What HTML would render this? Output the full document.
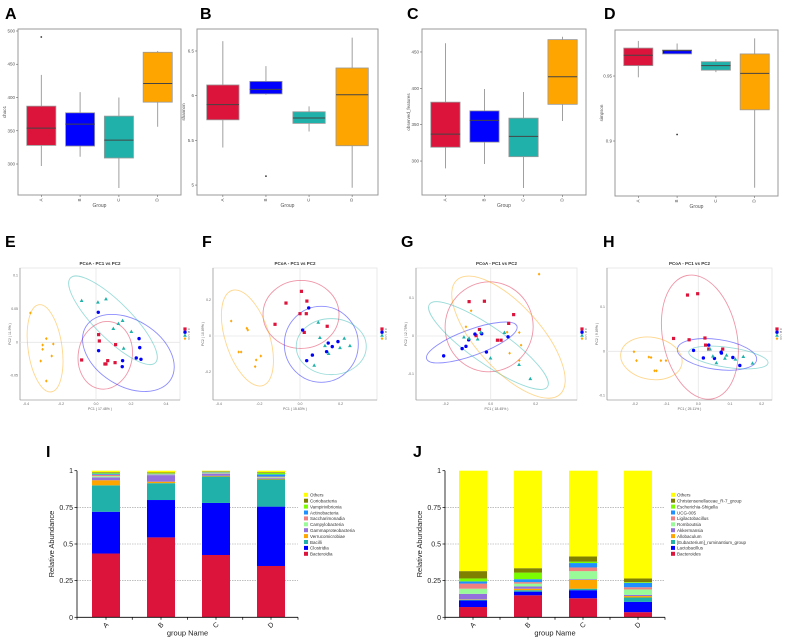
<!DOCTYPE html>
<html><head><meta charset="utf-8"><style>
html,body{margin:0;padding:0;background:#fff;}
svg{display:block;font-family:"Liberation Sans",sans-serif;}
</style></head><body>
<svg id="fig" width="787" height="641" viewBox="0 0 787 641" xmlns="http://www.w3.org/2000/svg"></svg>
<script>
// ---------- DATA ----------
const groups = ["A","B","C","D"];
const groupColors = ["#DC143C","#0000FF","#20B2AA","#FFA500"];
// boxplot stats [low, q1, median, q3, high]
const chao1Stats = [[297,328,354,387,434],[311,327,360,377,408],[264,309,336,372,400],[356,393,421,468,470]];
const chao1Outliers = [[491],[],[],[]];
const shannonStats = [[5.42,5.73,5.90,6.12,6.61],[6.01,6.02,6.07,6.16,6.33],[5.60,5.69,5.75,5.82,5.88],[4.97,5.44,6.01,6.31,6.65]];
const shannonOutliers = [[],[5.10],[],[]];
const observedStats = [[290,319,337,381,462],[296,326,356,369,399],[263,306,334,359,395],[355,378,416,467,471]];
const observedOutliers = [[],[],[],[]];
const simpsonStats = [[0.949,0.958,0.966,0.9715,0.977],[0.967,0.967,0.9695,0.970,0.975],[0.953,0.9545,0.958,0.961,0.963],[0.864,0.924,0.952,0.967,0.979]];
const simpsonOutliers = [[],[0.905],[],[]];
const chao1Ticks = [300,350,400,450,500];
const shannonTicks = [5.0,5.5,6.0,6.5];
const observedTicks = [300,350,400,450];
const simpsonTicks = [0.90,0.95];

// PCoA points per group: x values and y values
const pcoaEX = [[0.015,0.019,-0.082,0.067,0.057,0.051,0.109,0.112],[0.013,0.015,0.152,0.150,0.230,0.257,0.246,0.250],[-0.082,0.011,0.057,0.128,0.152,0.099,0.202,0.158],[-0.375,-0.284,-0.305,-0.244,-0.305,-0.253,-0.316,-0.284]];
const pcoaEY = [[0.0115,0.002,-0.0265,-0.0275,-0.0325,-0.0325,-0.0305,-0.0035],[0.045,-0.0125,-0.0275,-0.0365,-0.0235,-0.0255,0.0055,-0.008],[0.0625,0.06,0.065,0.028,0.0325,0.0205,0.016,-0.009],[0.044,0.0055,-0.004,-0.0025,-0.0105,-0.0205,-0.028,-0.058]];
const pcoaFX = [[0.007,0.034,-0.069,0,0.031,-0.123,0.021,0.134],[0.043,0.013,0.139,0.187,0.159,0.131,0.061,0.033],[0.090,0.098,0.123,0.141,0.218,0.246,0.197,0.070],[-0.339,-0.262,-0.257,-0.302,-0.290,-0.193,-0.216,-0.221]];
const pcoaFY = [[0.248,0.194,0.183,0.124,0.124,0.065,0.020,0.054],[0.156,0.033,-0.039,-0.031,-0.059,-0.087,-0.106,-0.137],[0.076,-0.009,-0.054,-0.098,-0.013,-0.054,-0.065,-0.163],[0.083,0.043,0.033,-0.089,-0.089,-0.111,-0.133,-0.170]];
const pcoaGX = [[-0.096,-0.028,0.102,0.080,-0.050,-0.065,0.030,0.046],[-0.209,-0.127,-0.110,-0.098,-0.070,-0.040,-0.019,0.077],[-0.119,-0.096,-0.058,-0.044,0.061,-0.001,0.126,0.176],[-0.087,-0.110,0.073,0.127,0.135,0.084,0.127,0.215]];
const pcoaGY = [[0.090,0.091,0.056,0.033,0.017,0.001,-0.011,-0.011],[-0.052,-0.033,-0.027,-0.010,0.005,0.006,-0.042,-0.002],[-0.003,-0.006,-0.008,0.010,0.009,-0.058,-0.075,-0.112],[0.066,0.024,0.010,0.009,-0.024,-0.045,-0.064,0.162]];
const pcoaHX = [[-0.034,-0.002,-0.078,-0.029,0.021,0.023,0.033,0.077],[-0.015,0.016,0.033,0.051,0.072,0.109,0.131,0.073],[0.037,0.046,0.057,0.089,0.117,0.142,0.171,0.084],[-0.203,-0.195,-0.156,-0.149,-0.118,-0.102,-0.138,-0.132]];
const pcoaHY = [[0.127,0.130,0.029,0.026,0.030,0.014,0.005,0.005],[0.002,-0.015,0.014,-0.016,-0.002,-0.014,-0.032,-0.004],[0.005,-0.011,-0.026,-0.009,-0.018,-0.012,-0.027,-0.016],[-0.001,-0.021,-0.013,-0.014,-0.021,-0.021,-0.044,-0.044]];
// ellipse centres (data units)
const ellEC = [[0.053,-0.0195],[0.185,-0.016],[0.097,0.033],[-0.291,-0.009]];
const ellFC = [[0.005,0.120],[0.105,-0.046],[0.154,-0.059],[-0.259,-0.011]];
const ellGC = [[-0.007,0.024],[-0.084,-0.017],[-0.010,-0.025],[0.079,-0.003]];
const ellHC = [[0.005,0.032],[0.059,-0.007],[0.095,-0.014],[-0.148,-0.016]];
const pcoaETicksX=[-0.4,-0.2,0.0,0.2,0.4], pcoaETicksY=[0.10,0.05,0.00,-0.05];
const pcoaFTicksX=[-0.4,-0.2,0.0,0.2], pcoaFTicksY=[0.2,0.0,-0.2];
const pcoaGTicksX=[-0.2,0.0,0.2], pcoaGTicksY=[0.1,0.0,-0.1];
const pcoaHTicksX=[-0.2,-0.1,0.0,0.1,0.2], pcoaHTicksY=[0.1,0.0,-0.1];

// stacked bars (bottom to top)
const classNames = ["Bacteroidia","Clostridia","Bacilli","Verrucomicrobiae","Gammaproteobacteria","Campylobacteria","Saccharimonadia","Actinobacteria","Vampirivibrionia","Coriobacteria","Others"];
const classA = [0.435,0.285,0.18,0.035,0.02,0.008,0.01,0.007,0.005,0.005,0.01];
const classB = [0.545,0.255,0.115,0.01,0.045,0.003,0.003,0.003,0.004,0.005,0.012];
const classC = [0.425,0.355,0.18,0.005,0.015,0.003,0.003,0.003,0.003,0.004,0.004];
const classD = [0.35,0.405,0.185,0.005,0.005,0.005,0.005,0.015,0.01,0.005,0.01];
const genusNames = ["Bacteroides","Lactobacillus","[Eubacterium]_ruminantium_group","Allobaculum","Akkermansia","Romboutsia","Ligilactobacillus","UCG-005","Escherichia-Shigella","Christensenellaceae_R-7_group","Others"];
const genusA = [0.07,0.045,0.005,0.003,0.037,0.035,0.035,0.015,0.02,0.05,0.685];
const genusB = [0.15,0.025,0.01,0.01,0.015,0.02,0.01,0.02,0.045,0.03,0.665];
const genusC = [0.13,0.055,0.01,0.06,0.005,0.055,0.025,0.03,0.01,0.035,0.585];
const genusD = [0.035,0.07,0.03,0.01,0.008,0.037,0.015,0.03,0.005,0.025,0.735];
const stackColors = ["#DC143C","#0000FF","#20B2AA","#FFA500","#9370DB","#98FB98","#F08080","#1E90FF","#7CFC00","#808000","#FFFF00"];
const abundTicks = [0,0.25,0.5,0.75,1];
const abundTickLabels = ["0","0.25","0.5","0.75","1"];

// ---------- DRAW ----------
const svg = document.getElementById('fig');
const NS = "http://www.w3.org/2000/svg";
function mk(tag, attrs, parent, text){
  const e = document.createElementNS(NS, tag);
  for (const k in attrs) e.setAttribute(k, attrs[k]);
  if (text !== undefined) e.textContent = text;
  (parent||svg).appendChild(e);
  return e;
}
function letter(t,x,y){
  const e = mk('text',{x:x,y:y,'font-size':16,'font-weight':'bold',fill:'#000'},svg,t);
  
  
}
[["A",5,19],["B",200,19],["C",407,19],["D",604,19],["E",5,247],["F",202,247],["G",401,247],["H",603,247],["I",46,457],["J",413,457]].forEach(a=>letter(a[0],a[1],a[2]));

function boxPanel(name, fr, dom, stats, outs, ticks, ylab){
  const g = mk('g',{});
  
  
  const y = v => fr.y1 - (v-dom[0])/(dom[1]-dom[0])*(fr.y1-fr.y0);
  const unit = (fr.x1-fr.x0)/4.2;
  const xc = i => fr.x0 + (i+0.6)*unit;
  const frame = mk('rect',{x:fr.x0,y:fr.y0,width:fr.x1-fr.x0,height:fr.y1-fr.y0,fill:'none',stroke:'#999','stroke-width':1},g);
  
  
  ticks.forEach(t=>{
    mk('line',{x1:fr.x0-2,x2:fr.x0,y1:y(t),y2:y(t),stroke:'#666','stroke-width':0.6},g);
    const tl = mk('text',{x:fr.x0-3,y:y(t)+1.5,'font-size':4.5,'text-anchor':'end',fill:'#555'},g,String(t));
    
    
  });
  stats.forEach((s,i)=>{
    const cx = xc(i), w = unit*0.75;
    mk('line',{x1:cx,x2:cx,y1:y(s[0]),y2:y(s[4]),stroke:'#888','stroke-width':0.8},g);
    const b = mk('rect',{x:cx-w/2,y:y(s[3]),width:w,height:Math.max(0.8,y(s[1])-y(s[3])),fill:groupColors[i],stroke:'#999','stroke-width':0.8},g);
    
    
    mk('line',{x1:cx-w/2,x2:cx+w/2,y1:y(s[2]),y2:y(s[2]),stroke:'#444','stroke-width':1},g);
    outs[i].forEach(o=>{
      const p = mk('circle',{cx:cx,cy:y(o),r:0.9,fill:'#333'},g);
      
      
    });
    mk('line',{x1:cx,x2:cx,y1:fr.y1,y2:fr.y1+2,stroke:'#666','stroke-width':0.6},g);
    mk('text',{x:cx,y:fr.y1+6,'font-size':4.5,'text-anchor':'middle',fill:'#555',transform:`rotate(-90 ${cx} ${fr.y1+5})`},g,groups[i]);
  });
  const xt = mk('text',{x:(fr.x0+fr.x1)/2,y:fr.y1+12,'font-size':5,'text-anchor':'middle',fill:'#555'},g,'Group');
  
  
  const ly = (fr.y0+fr.y1)/2;
  const yt = mk('text',{x:fr.x0-12,y:ly,'font-size':4.5,'text-anchor':'middle',fill:'#555',transform:`rotate(-90 ${fr.x0-12} ${ly})`},g,ylab);
  
  
}
boxPanel('chao1',{x0:18,x1:181,y0:29,y1:195},[253.4,503],chao1Stats,chao1Outliers,chao1Ticks,'chao1');
boxPanel('shannon',{x0:197,x1:378,y0:29,y1:195},[4.889,6.746],shannonStats,shannonOutliers,shannonTicks,'shannon');
boxPanel('observed',{x0:422,x1:586,y0:29,y1:195},[253.3,481.6],observedStats,observedOutliers,observedTicks,'observed_features');
boxPanel('simpson',{x0:615,x1:778,y0:30,y1:196},[0.8577,0.9854],simpsonStats,simpsonOutliers,simpsonTicks,'simpson');

function marker(g,i,x,y){
  let e;
  const c = groupColors[i];
  if(i===0) e = mk('rect',{x:x-1.6,y:y-1.6,width:3.2,height:3.2,fill:c},g);
  else if(i===1) e = mk('circle',{cx:x,cy:y,r:1.7,fill:c},g);
  else if(i===2) e = mk('polygon',{points:`${x},${y-2} ${x-1.9},${y+1.4} ${x+1.9},${y+1.4}`,fill:c},g);
  else e = mk('polygon',{points:`${x},${y-1.6} ${x+1.3},${y} ${x},${y+1.6} ${x-1.3},${y}`,fill:c},g);
  return e;
}
function pcoaPanel(name, fr, org, xs, ys, ex, ey, ell, ellR, tx, ty, pc1, pc2){
  const g = mk('g',{});
  
  
  const X = v => org.x + v*org.kx, Y = v => org.y - v*org.ky;
  const t = mk('text',{x:(fr.x0+fr.x1)/2,y:fr.y0-3,'font-size':4.5,'font-weight':'bold','text-anchor':'middle',fill:'#333'},g,'PCoA - PC1 vs PC2');
  
  
  mk('rect',{x:fr.x0,y:fr.y0,width:fr.x1-fr.x0,height:fr.y1-fr.y0,fill:'none',stroke:'#e4e4e4','stroke-width':0.8},g);
  mk('line',{x1:fr.x0,x2:fr.x0,y1:fr.y0,y2:fr.y1,stroke:'#888','stroke-width':0.6},g);
  mk('line',{x1:fr.x0,x2:fr.x1,y1:fr.y1,y2:fr.y1,stroke:'#888','stroke-width':0.6},g);
  mk('line',{x1:X(0),x2:X(0),y1:fr.y0,y2:fr.y1,stroke:'#e6e6e6','stroke-width':0.8},g);
  mk('line',{x1:fr.x0,x2:fr.x1,y1:Y(0),y2:Y(0),stroke:'#e6e6e6','stroke-width':0.8},g);
  tx.forEach(v=>{ mk('text',{x:X(v),y:fr.y1+5,'font-size':3.5,'text-anchor':'middle',fill:'#666'},g,v.toFixed(1)); });
  ty.forEach(v=>{ mk('text',{x:fr.x0-2,y:Y(v)+1,'font-size':3.5,'text-anchor':'end',fill:'#666'},g,String(v)); });
  mk('text',{x:(fr.x0+fr.x1)/2,y:fr.y1+10,'font-size':3.5,'text-anchor':'middle',fill:'#666'},g,pc1);
  const my=(fr.y0+fr.y1)/2;
  mk('text',{x:fr.x0-9,y:my,'font-size':3.5,'text-anchor':'middle',fill:'#666',transform:`rotate(-90 ${fr.x0-9} ${my})`},g,pc2);
  ell.forEach((c,i)=>{
    const cx=X(c[0]), cy=Y(c[1]);
    const e = mk('ellipse',{cx:cx,cy:cy,rx:ellR[i][0],ry:ellR[i][1],fill:'none',stroke:groupColors[i],'stroke-opacity':0.45,'stroke-width':0.9,transform:`rotate(${ellR[i][2]} ${cx} ${cy})`},g);
    
    
  });
  xs.forEach((arr,i)=>arr.forEach((v,j)=>{
    const p = marker(g,i,X(v),Y(ys[i][j]));
    
    
  }));
  groups.forEach((gn,i)=>{
    const ly = (fr.y0+fr.y1)/2 - 5 + i*3.2;
    const m = marker(g,i,fr.x1+5,ly);
    
    
    mk('text',{x:fr.x1+8,y:ly+1,'font-size':2.8,fill:'#555'},g,gn);
  });
}
pcoaPanel('e',{x0:20,x1:180,y0:268,y1:400},{x:96,kx:175,y:342.3,ky:667},pcoaEX,pcoaEY,null,null,ellEC,[[27,34,10],[50,33,32],[60,18,45],[17,44,-8]],pcoaETicksX,pcoaETicksY,'PC1 ( 17.48% )','PC2 ( 11.9% )');
pcoaPanel('f',{x0:213,x1:377,y0:268,y1:400},{x:300,kx:203,y:336,ky:180},pcoaFX,pcoaFY,null,null,ellFC,[[38,34,0],[37,38,0],[35,28,0],[22,50,-18]],pcoaFTicksX,pcoaFTicksY,'PC1 ( 15.63% )','PC2 ( 10.89% )');
pcoaPanel('g',{x0:416,x1:577,y0:268,y1:400},{x:490.7,kx:225,y:336,ky:382},pcoaGX,pcoaGY,null,null,ellGC,[[44,45,10],[48,13,-20],[72,18,35],[77,32,48]],pcoaGTicksX,pcoaGTicksY,'PC1 ( 18.45% )','PC2 ( 12.75% )');
pcoaPanel('h',{x0:607,x1:772,y0:268,y1:400},{x:698.3,kx:317,y:351.3,ky:443},pcoaHX,pcoaHY,null,null,ellHC,[[37,63,-12],[40,15,8],[40,10,8],[31,21,10]],pcoaHTicksX,pcoaHTicksY,'PC1 ( 25.11% )','PC2 ( 9.89% )');

function stackPanel(name, ax, data, names){
  const g = mk('g',{});
  
  
  const Y = v => ax.y1 - v*(ax.y1-ax.y0);
  abundTicks.forEach((t,k)=>{
    if(t>0 && t<1){ const gl = mk('line',{x1:ax.x0,x2:ax.x1,y1:Y(t),y2:Y(t),stroke:'#999','stroke-width':0.6,'stroke-dasharray':'1.5,1'},g);
        }
    mk('line',{x1:ax.x0-2.5,x2:ax.x0,y1:Y(t),y2:Y(t),stroke:'#000','stroke-width':0.7},g);
    mk('text',{x:ax.x0-4,y:Y(t)+2.5,'font-size':7,'text-anchor':'end',fill:'#222'},g,abundTickLabels[k]);
  });
  data.forEach((vals,i)=>{
    const cx = ax.cx[i], w = 28;
    let cum = 0;
    vals.forEach((v,k)=>{
      const r = mk('rect',{x:cx-w/2,y:Y(Math.min(1,cum+v)),width:w,height:Math.max(0,Y(cum)-Y(Math.min(1,cum+v))),fill:stackColors[k]},g);
      
      
      cum += v;
    });
    mk('line',{x1:cx,x2:cx,y1:ax.y1,y2:ax.y1+2.5,stroke:'#000','stroke-width':0.7},g);
    mk('text',{x:cx,y:ax.y1+10,'font-size':7,'text-anchor':'middle',fill:'#222',transform:`rotate(-45 ${cx} ${ax.y1+8})`},g,groups[i]);
  });
  for(let i=0;i<=4;i++){ const tx = ax.x0 + (ax.x1-ax.x0)*i/4; mk('line',{x1:tx,x2:tx,y1:ax.y1,y2:ax.y1+2.5,stroke:'#000','stroke-width':0.7},g); }
  mk('line',{x1:ax.x0,x2:ax.x0,y1:ax.y0,y2:ax.y1,stroke:'#000','stroke-width':0.8},g);
  mk('line',{x1:ax.x0,x2:ax.x1,y1:ax.y1,y2:ax.y1,stroke:'#000','stroke-width':0.8},g);
  const xt = mk('text',{x:(ax.x0+ax.x1)/2,y:ax.y1+18,'font-size':7.5,'text-anchor':'middle',fill:'#222'},g,'group Name');
   
  const my = (ax.y0+ax.y1)/2;
  const yt = mk('text',{x:ax.x0-23,y:my,'font-size':7.5,'text-anchor':'middle',fill:'#222',transform:`rotate(-90 ${ax.x0-23} ${my})`},g,'Relative Abundance');
   
  for(let k=names.length-1;k>=0;k--){
    const ly = ax.ly + (names.length-1-k)*5.9;
    const le = mk('rect',{x:ax.lx,y:ly-2.2,width:4,height:4,fill:stackColors[k]},g);
    
    
    mk('text',{x:ax.lx+6,y:ly+1.6,'font-size':4.5,fill:'#333'},g,names[k]);
  }
}
stackPanel('class',{x0:77,x1:298,y0:470.7,y1:617.3,cx:[106,161,216,271],lx:304,ly:495},[classA,classB,classC,classD],classNames);
stackPanel('genus',{x0:445,x1:665,y0:470.7,y1:617.3,cx:[473,528,583,638],lx:671,ly:495},[genusA,genusB,genusC,genusD],genusNames);
</script>
</body></html>
